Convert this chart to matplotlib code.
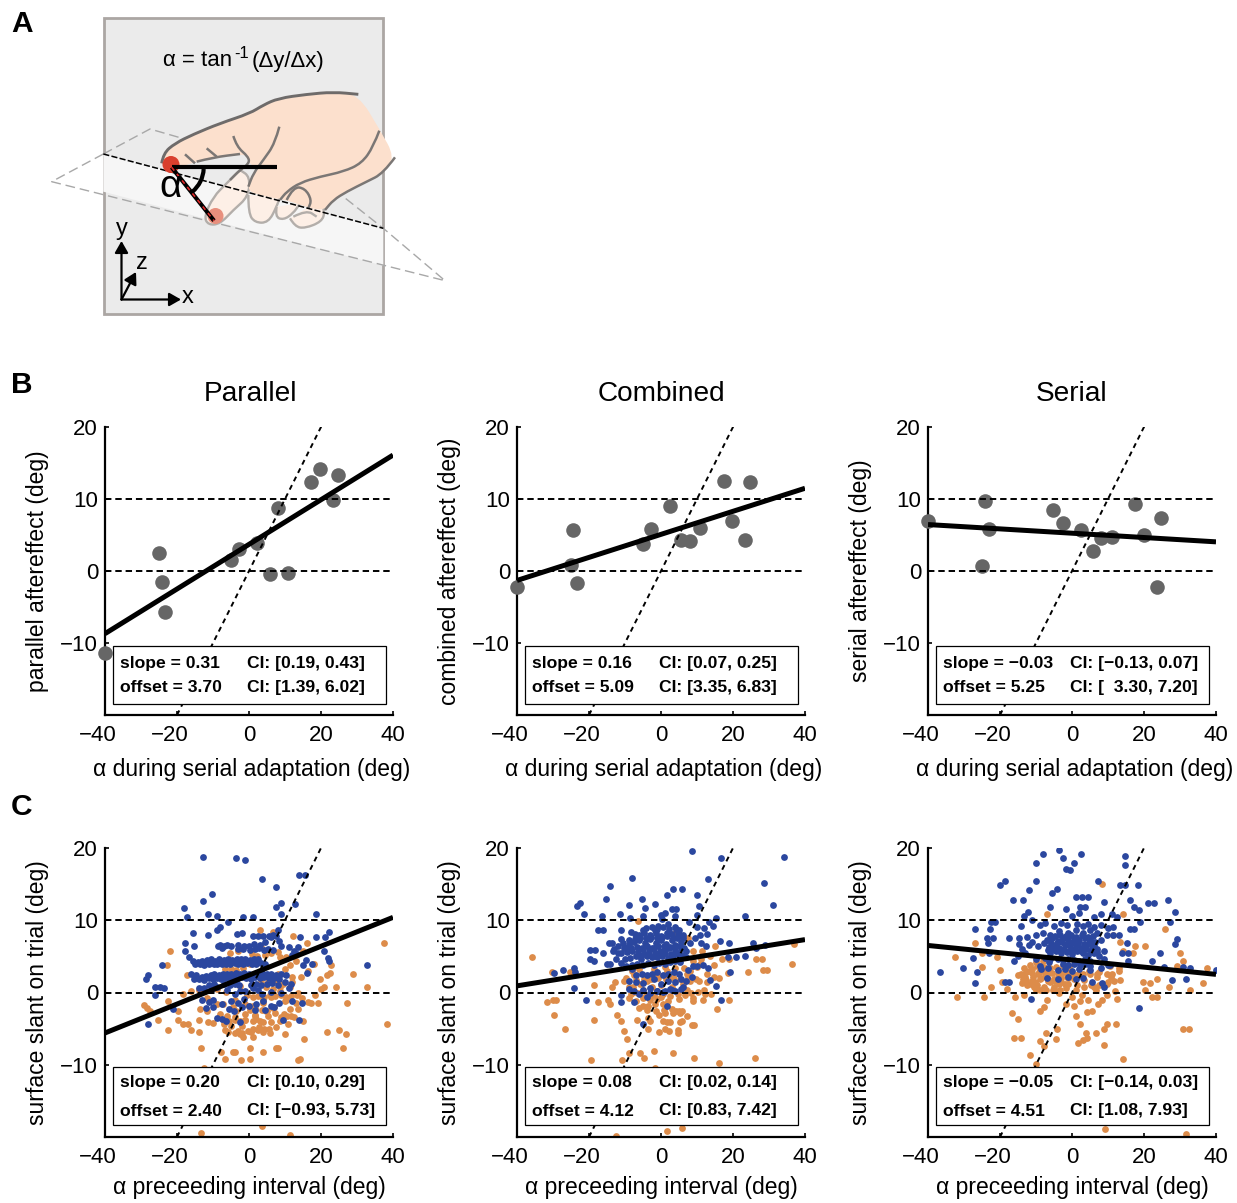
#!/usr/bin/python3
# -*- coding: UTF-8 -*-
import matplotlib
matplotlib.use('Agg')
import matplotlib.pyplot as plt
from matplotlib.patches import Rectangle, Polygon, PathPatch, Circle, Arc
from matplotlib.path import Path
from matplotlib.transforms import ScaledTranslation

plt.rcParams['font.family'] = ['Liberation Sans', 'DejaVu Sans']
plt.rcParams['axes.unicode_minus'] = True

W, H = 1237, 1203

# panel B, mean per subject
b_x = [[-40, -25, -24.3, -23.2, -5.1, -2.8, 2.3, 5.7, 10.8, 8, 17.3, 19.7, 24.6, 23.3],
       [-40, -24.4, -25, -23.3, -5, -2.8, 2.5, 5.5, 8, 10.8, 17.5, 19.7, 23.3, 24.7],
       [-40, -24.2, -23, -25, -5.3, -2.5, 2.5, 5.8, 8, 11, 17.5, 20, 23.6, 24.7]]
b_y = [[-11.4, 2.5, -1.5, -5.7, 1.5, 3, 3.9, -0.4, -0.3, 8.8, 12.3, 14.2, 13.4, 9.8],
       [-2.2, 5.7, 0.8, -1.7, 3.8, 5.8, 9, 4.3, 4.2, 6, 12.5, 6.9, 4.3, 12.4],
       [6.9, 9.7, 5.8, 0.7, 8.5, 6.7, 5.7, 2.8, 4.6, 4.7, 9.3, 5, -2.2, 7.4]]

# panel C, parallel
c1_blue_x = [-12.7, -3.6, -1.2, 3.5, 13.8, 15.5, 7.6, -10.3, -12.9, -18, -17.2, 8.9, 7.6, 12.9, 8.8, -11.4, -9, -5.8,
             -1.8, 1.1, 18.5, -15.5, -9, -8, -11.4, -17.8, -15.4, -17.8, -16.8, -24.2, -28, -28.6, -26, -24.7, -23.6,
             -26, -28, -21, 32.7, 22.3, 21, 18.6, 14.2, 20.9, 22, 22.3, 15.9, 17.5, 15, 16, 13.8, 9.4, 14.8, -2.6,
             -9, -7.6, -6.5, -15.5, -14.2, -13, -11.8, -10.6, -9.4, -8.2, -7, -5.8, -4.6, -3.4, -2.2, -1, 0.2, 1.4, 2.6,
             -16, -14.6, -13, -12, -10.5, -9.6, -8.4, -7.2, -6.2, -5, -3.6, -2.6, -1.4, 0, 1, 2.4, 3.6, 5, 6, 7.6, 9, 10.4,
             -8, -7, -6, -5, -3, -1.5, 0, 1.5, 3, 4.5, 6, 7.5, 9, 11, 12.5, 13.5,
             1, 2.5, 4, 5.5, 6.8, -2, -3.2, -8.6, -7.4, 8, 8.4,
             -14, -12.4, -10.6, -9, -6, -4, -2.6, -1, 1, 2.4, 3.6, 6, 9, 11,
             -13, -11, -10, -7.6, -5, -3, -1.4, 0, 2, 4, 6, 8.4, 12, -12, -10, -5.6, -4.2, -2, 1.8, 4.4, 7,
             -15, -13.6, -12.4, -11, -9.8, -8.8, -7.6, -6.4, -5.4, -4, -3, -1.8, -0.6, 0.8, 2, 3.2, 4.4,
             -15.4, -14, -12.6, -11.2, -10, -8.8, -7.8, -6.6, -5.6, -4.4, -3.2, -2, -0.8, 0.6, 1.8, 3, 4.2, 5.6, 7, 8.2,
             -11, -9.6, -7, -5.4, -4, -2.8, 0.6, 2, 3.4, 5, 6.4, 8, 10, 11.6,
             -3, -1.6, 0.2, 1.6, 2.8, 4.2, 5.4, 6.8, 12, 13.4]
c1_blue_y = [18.7, 18.6, 18.3, 15.7, 16.3, 16.3, 14.6, 13.7, 12.6, 11.7, 10.4, 12.4, 11.9, 12.3, 10.9, 10.9, 10.6, 9.8,
             10.5, 10.5, 10.9, 8.3, 8.7, 9, 7.9, 6.8, 6.5, 5.7, 4.9, 3.8, 2.4, 1.8, 0.8, 0.8, 0.6,
             -0.3, -4.3, -2.3, 3.8, 8.4, 7.7, 7.7, 7.7, 5.7, 4.8, 4.4, 4.5, 3.9, 3.8, 2.7, -3.8, -3.8, -1.4, -4.1,
             -3.5, -3.7, -3.9, 4.4, 4.2, 4.3, 4.5, 4.6, 4.4, 4.6, 4.5, 4.6, 4.5, 4.7, 4.6, 4.6, 4.5, 4.6, 4.7,
             2.6, 2.4, 2.2, 2.3, 2.4, 2.5, 2.4, 2.6, 2.5, 2.6, 2.7, 2.5, 2.7, 2.6, 2.4, 2.6, 2.7, 2.6, 2.5, 2.4, 2.6, 2.4,
             6.6, 6.4, 6.6, 6.4, 6.6, 6.5, 6.4, 6.7, 6.6, 7, 7.7, 7.8, 6.4, 6.3, 5.8, 6.3,
             7.8, 7.8, 7.8, 7.8, 7.9, 8.3, 8.1, 6.5, 6.2, 8.6, 7.1,
             0.6, 0.6, 0.4, 0.7, 0.4, -0.2, 0.2, 0.2, 0.6, 0.3, -0.2, 0.1, 0, 0.6,
             -1.1, -1.3, -1, -1.6, -1.2, -1.5, -0.9, -1.8, -1.6, -1.2, -1.8, -1.4, -1.2, -2.2, -2, -2.3, -2.6, -2, -2.4, -2.4, -2,
             3.9, 4, 3.8, 3.9, 4, 3.9, 4, 3.9, 4, 4.1, 3.9, 4, 4.1, 3.9, 4, 4.1, 3.9,
             1.9, 1.8, 1.7, 2, 1.8, 2, 1.9, 2, 1.9, 2.1, 1.9, 2.1, 2, 1.9, 2.1, 2, 2.1, 2, 2, 1.9,
             1.1, 1.2, 1.2, 1, 1.2, 1, 1, 1.2, 1.1, 1.2, 1.3, 1.1, 1.4, 1.2,
             6, 6, 5.9, 6, 6.1, 5.9, 6, 5.9, 5.2, 5.3]
c1_orange_x = [37.4, 28.8, 32.7, 27.1, 38.2, 21.6, 25.1, 27, 26.2, 24.2, 22.7, 22.5, 21.6, 19.7, 20.9, 20, 18.2, 19.1, 17.3, 16.3,
               15.4, 14.2, 13.6, 8, 7.4, 3.9, 0.4, -2.3, -4.4, -3.8, -6.7, -7.9, 0.2, -13.2, -12.6, -13.2, 11.4, 3.6,
               -22, -22.9, -29.3, -28.4, -27.6, -25.4, -22.4, -22.4, -19.8, -18.3, -16.9, -16.2, -14, -13.9, -11.4, -11.6,
               -19.6, -18.3, -17.3, -6.7, -3, -2.4, -1.8, 1.1, 0.6, 2.5, 3.9, 5.7, 10.1, 10.8, 6.2, -1.2, 1.1, 3, 3.9, 1.6,
               3.9, 1.1, -1.2, 11.3, 13.6, 10.3, 4.8, 6.6, 8.5, 11.3, 13.6, 3, 6.6, 12.2, 16, 15, 11.3, 13.1, 10.4, 8.5,
               -3, -5.3, 0.2, 3.4, -4.4, -3.5, -7.2, -9, -11.8, -13.7, -8, -6, -4, -1, 1.6, 4.6, 7.2, 9.6, -10, -7, -5, -2,
               -9, -6.5, -2.6, 0.8, 3.4, 5.4, 7.8, 9.4, 12, 14.4, 16.4, 18, 8, 10, 12, -16, -14, -4, 6, 8.6,
               -0.5, 1, 2.6, 4.2, 5.8, 7.2, 8.8, 10.2, 11.8, 13.2, 14.6, 0, 2, 3.8, 5.4, 7, 8.6, 10, 11.6, 13, 15,
               -7, -5.6, -4, -2.6, -1.2, 0.2, 1.8, 3.6, 5, 6.8, -6.6, -5, -3.6, -1.8, 0.8, 2.2, 4.4, 6.2, 8,
               -5.8, -4, -2, -0.4, 1.2, 2.8, 4.2, 5.6, 7.4, 9, 10.6, 12.4]
c1_orange_y = [6.9, 2.6, 0.7, -1.4, -4.4, -5.5, -5.2, -5.7, -7.7, 0.7, 3.8, 2.7, 2.4, 1.8, 0.8, 0.5, -0.3, -1.4, -1.4, -1.3,
               -6.4, -9.2, -9.4, -7.7, -7.7, -8.3, -9.2, -9.4, -8.3, -8.3, -9.2, -8.3, -7.7, -7.7, -10.4, -19.5, -19.7, -18.5,
               5.7, 3.8, -1.7, -2.2, -2.5, -3.8, -5.2, -1.2, -3.8, -4.3, -4.3, -5.2, -5.5, -3.8, -4.1, -2.5,
               -2.5, -0.2, 2.4, -5.2, -5.3, -5.7, -6.1, -6.2, -5.4, -5.2, -5.5, -5.6, -5.7, -4.3, -4.1, -3.8, -3.9, -3.9, -4.1, -3.1,
               -1.4, -1.8, -1.6, -2.3, -2.3, -1.1, 0.7, 0.5, 0.7, 0.7, 0, 8.7, 8.4, 7.8, 6.8, 5.8, 3.8, 4.4, 4.9, 4.9,
               5.8, 5.4, 4, 6.3, -2, -2.5, -1.6, -1.6, -0.7, -2.3, -3, -3.2, -3.4, -3, -3.2, -2.6, -2.8, -3, -4.2, -4.4, -4.6, -4.6,
               0.5, 0.1, 0.9, 1, 1.4, 1.5, 1.6, 1.2, 1.4, 2.2, 3, 4, 2.6, 3.2, 2.2, 0.2, 0.4, -1, -0.6, 0.2,
               -0.4, -0.6, -0.5, -0.6, -0.4, -0.5, -0.4, -0.6, -0.5, -0.4, -0.7, -1.9, -3.7, -1.1, -3.2, -2, -3.9, -1.2, -3.3, -1.5, -3.9,
               -4, -3.9, -3.8, -4, -3.8, -2.4, -2.2, -2.4, -2.5, -2.1, 3.2, 3.3, 3.1, 3.4, 5.3, 5.1, 5.2, 5.4, 5.6,
               -5.4, -5.6, -5.6, -5.3, -5.1, -4.8, -5, -5, -4.8, -3.4, -3.2, -3.4]

# panel C, combined
c2_blue_x = [8.5, 16.7, 34.3, -8.1, -14.3, 13, 28.5, 3.4, 5.8, 1.8, 10, -15.2, -5.3, -1.7, -22.4, -23.3, -9, -4.5, 10.5, 31.1,
             -21.5, -16.3, -11.3, -5.1, -8.6, 0.1, 1.1, 3, 4.3, 4, 0.3, 9.9, 23.3, 15.4, 13.4, 7.8, 9.9, 11.9, 14.5, 12.7, 10.8,
             2, 4.3, -17.5, -16, -11.2, -8.2, -7.2, -4.9, -1.7, -0.7, -14.4, -13.5, -11, -16.1,
             -19.8, -18.3, -19.8, -18.7, -15, -14.1, -29.6, -27.2, -24.1, -23.8, -24.3, -20.9, -11.2, -11.2, -7.5, -4, -5.1, 1.8,
             15.4, 13.6, 16.7, 19.1, 25.6, 26.5, 23.2, 18.9, 16.3, 20.9, 18.5, 28.8,
             -12, -10.5, -9, -7.5, -6, -4.5, -3, -1.5, 0, 1.5, 3, 4.5, 5.5, -11, -9.4, -8, -6.4, -5, -3.4, -2, -0.4, 1, 2.6, 4, 5.6, 7,
             -10, -8.6, -7, -5.6, -4, -2.6, -1, 0.4, 2, 3.4, 5, -8, -6.6, -5, -3.6, -2, -0.6, 1, 2.4, 4, 5.4, -12.5, -11, -9.6,
             -6, -4.6, -3, -1.4, 0, 1.6, 3, 4.6, 6, -7, -5.4, -4, -2.4, -1, 0.6, 2, 3.6, 5, 10, 11.6, 13, 7.6, 9, 7,
             -9, -7, -5, -2, 0, 2, 4, 5.6, 7, 8.6, -6, -3, -1, 1, 3, 5.5, -9, -7.4, -5, -3, -1, 0.5, 2.6, 4, 6,
             -13, -9.8, -8.4, -6.8, -5.4, -3.8, -2.4, -0.8, 0.8, 2.2, 3.8, 5.2, 6.4, -8.8, -7.2, -5.8, -4.2, -2.8, -1.2, 0.2, 1.8, 3.2, 4.8, 6.2,
             -6.2, -4.8, -3.2, -1.6, -0.2, 1.2, 2.8, 4.4, 5.8, -4.2, -2.6, -1, 0.6, 2.2, 3.8, 5, -10.4, -12, -13.2, -8, 8, 9.4, 11, 12.4]
c2_blue_y = [19.6, 18.6, 18.8, 15.9, 14.8, 15.7, 15.1, 14.3, 14.3, 13.5, 13.5, 12.9, 12.9, 12.3, 12.4, 12, 12.1, 11.7, 12, 12.1,
             10.9, 10.6, 10.9, 10.6, 10.3, 10.7, 11, 11.6, 11.6, 10.6, 10.2, 10.7, 10.6, 10.3, 9.8, 9.8, 9.1, 8.9, 9.2, 8.1, 7.9,
             9.5, 8.8, 8.7, 8.7, 8.7, 8.4, 8.1, 8.6, 8.7, 9.2, 6.9, 6.9, 7.4, 5.4,
             5.9, 5.9, 4.7, 4.3, 4, 3.9, 2.7, 3.1, 3.4, 2.8, 0.6, -1, -0.3, -1.3, -1.3, -0.6, -4.4, -1.8,
             0.9, 1.7, -1, 2.8, 6.9, 6.1, 5.1, 6.9, 7.1, 4.9, 4.9, 6.6,
             6.4, 6.8, 6.6, 7, 7.3, 6.9, 7.4, 6.8, 7.2, 6.7, 7.3, 7.6, 7, 5.4, 5.6, 5.8, 5.6, 6, 5.8, 6.1, 5.7, 5.9, 6.3, 5.9, 6.1, 5.7,
             4.6, 4.8, 5, 4.7, 5, 4.9, 4.9, 5.1, 4.8, 5, 5.2, 3.8, 4, 3.8, 4.1, 3.8, 4.1, 4, 4.2, 4.4, 4.2, 4.6, 4.1, 3.6,
             7.9, 8.2, 7.9, 8.3, 7.8, 8.2, 8.1, 8.4, 8, 2.4, 2.6, 2.4, 2.6, 2.8, 2.4, 2.6, 2.9, 2.5, 3.6, 3.8, 3.4, 3.1, 3.6, 4.9,
             1.6, 1.4, 1.3, 1.8, 1.2, 1.6, 1.4, 1.9, 1.6, 2.2, -0.2, -0.1, 0.2, 0.2, 0.3, 0.5, 0.5, 0.2, 0.4, 0.6, 0.2, 0.1, 0.5, 0.2, 0.8,
             6, 6.2, 6.1, 6.3, 6.2, 6.5, 6.2, 6.4, 6.5, 6.2, 6.6, 6.4, 6.2, 7.2, 7.4, 7.5, 7.6, 7.7, 7.5, 7.7, 7.8, 7.6, 7.8, 7.5,
             5.2, 5.3, 5.2, 5.4, 5.2, 5.5, 5.3, 5.4, 5.2, 8.9, 9, 8.8, 9, 8.8, 9, 8.7, 6.2, 5.4, 5.7, 3.2, 6.8, 7.5, 6.8, 6.4]
c2_orange_x = [-35.7, -30.3, -25.2, -31.8, -30, -29.1, -29.8, -26.8, -18.5, -17.4, -18.5, -19.5, -10.9, -12.1, -11.2, -10.4, -9.5,
               -14.6, -14.1, -12.7, -13.7, -9, -5.8, -4.7, -1.9, 3.4, 9.1, 16, 26.1, -1.8, -12.5, 1.6, 5.8, 37, 36.3, 28.1, 26.3,
               28.3, 29.5, 24.1, 18.9, 15.6, 9.1, 8.5, 5.3, 5.8, 5.8, 4.1, 1.6, 2.5, 0.6, -0.6, -0.5, 1.1, 2.2, 4.8, 4.8,
               -3.5, -3, -3.5, -6.7, -4.9, -3.5, -1.7, 0.6, 7.1, 8.9, 11.7, 11.9, 14, -6.3, 4, 7.5, 9, 11.3, 15, 17, 19,
               -7.7, -10.4, -9, -5.8, -4, -1.2, 1.6, 3.4, 7.1, 8, 10, 12.7, 14.6, 18.7, 9, 10.8,
               -9, -7, -5, -3, 0, 2, 5, 9, -7.5, -5, -2.5, 0, 3, 6, 8, -8, -6, -2, 1, 4, 6.5, 11, 13.5,
               -8.4, -6.4, -4.2, -2, 0.6, 2.6, 4.6, 6.6, 8.4, 10.4, 12.2, -7, -4.8, -2.8, -0.8, 1.4, 3.4, 5.4, 7.4, 9.6,
               -6, -3.8, -1.4, 0.8, 3, 5, -3, -1, 1, 3.2, 5.4, 7.2, -9.6, -7.6, 10.6, 12.8, 14.6, 16.2]
c2_orange_y = [4.9, 2.9, 2.8, -1.3, -1, -1, -3.1, -5, 1.1, -1.3, -3.8, -9.3, -9.3, -3.1, -3.9, -5.3, -6.4,
               -1.1, -1.6, 1.4, 0.7, -8.4, -8.4, -9, -8.1, -8.4, -9, -9.8, -9, -10.4, -19.8, -19.2, -18.7, 6.7, 4, 4.7, 4.7,
               3.1, 3.1, 2.9, -1.1, -2.3, -4.5, -4.5, -4.1, -3.9, -2.5, -2.6, -4.1, -4.1, -3.9, -3.1, -5.4, -5.1, -5.3, -5.2, -5.6,
               -3.5, -3.9, -5.1, -3.8, -1.8, -1.8, -1.6, -1.6, 0.3, -0.8, -1.1, 0.3, -0.2, 9.9, 8.3, 7.6, 5.8, 5.8, 6.5, 4.7, 4.7,
               0.7, 1.6, 0.7, 1.2, 1.6, 2.6, 3, 2.1, 2.6, 3, 3.5, 2.6, 3.8, 2.7, 4.4, 3.9,
               -0.8, -1.2, -0.8, -1, -0.6, -1.2, -0.9, -1.2, 0.1, 0.4, 0.8, 1, 0.7, 1.2, 1.6, 3, 3.2, 3.2, 3.5, 3.4, 3.4, 4.6, 5,
               -0.2, -0.1, -0.4, -0.3, -0.2, -0.5, -0.2, -0.4, -0.1, 0.1, -0.2, 1.7, 1.9, 1.8, 2, 1.9, 2, 1.8, 2, 1.8,
               -2.2, -2.4, -2.6, -2.4, -2.3, -2.5, -0.8, -0.9, -2.8, -2.9, -2.8, -3.2, 2, 2.4, 1.6, 1.5, 2.2, 2]

# panel C, serial
c3_blue_x = [-3.7, -8, -2.5, 2.6, 14.7, 14.7, -10, 0.5, -1.8, -0.6, -10, -18.5, -20, 7.2, 13.2, 14.8, 18.4, -11.9, -4.3, -5.6,
             1, 2.8, 4.4, -16.4, -13.7, 16, 26.7, 21, 22.9, 8.9, -6.2, -1.8, 2.3, 3.5, 17.1, 18.5, 28.7, -12.3, -13.2, 8.1, 11.2, 12.6,
             -22.6, -21.5, 27.2, 18.8, 16.1, 17.1, -27, -22.9, -14.3, -11.1, -23.7, -21.9, -23.2, -17.5, -14.7, -12.4, -14.7,
             28.6, 29.1, 15.2, 24.4, 22.1, 15.5, 15.5, -23.1, -27.4, -30.2, -36.6, -26.5, -26.9, -18.5, -17.5, -11.5, 8.8, 18.6,
             25.6, 27.7, 30.7, 31.8, 32.9, 39.9,
             -7, -5.5, -4, -2.5, -1, 0.5, 2, 3.5, 5, 6.5, 8, -6.5, -5, -3.5, -2, -0.5, 1, 2.5, 4, 5.5, 7, 9,
             -6, -4.5, -3, -1.5, 0, 1.5, 3, 4.5, 6, 7.5, -7.5, -6, -4, -2.5, -1, 0.5, 2, 3.5, 5,
             -9, -7.4, -5, -3, -1.5, 1.5, 3, 4.5, 6, 8, 10, 11.5, -10, -8, -6, -3.6, -1, 1, 3, 5, 7, 9.6, 11.4,
             -8.6, -6.8, -4, -2, 0, 2, 5, 8, 10, -7, -4, -1, 1, 3, 5.6, 8.4, -11, -13, -15, -10, -9, 0, 2, 6, 13, 14,
             -5.8, -4.2, -2.8, -1.2, 0.4, 1.8, 3.2, 4.8, 6.2, -6.8, -5.2, -3.8, -2.2, -0.6, 0.8, 2.4, 3.8, 5.4, 7,
             -4.8, -3.2, -1.8, -0.2, 1.2, 2.8, 4.4, 5.8, -2.6, -1, 0.6, 2.2, 3.6, 5, -7.8, -6.4, -9.4, -12, -14, -16, 9, 10.6]
c3_blue_y = [19.7, 19.2, 18.6, 19.2, 18.9, 17.6, 17.9, 17.9, 17.1, 16.9, 15.5, 15.5, 14.9, 15.5, 14.9, 14.9, 14.9, 14.2, 14.3, 13.8,
             13.2, 13.2, 13.2, 12.8, 12.8, 12.8, 12.8, 12.4, 12.4, 12.5, 11.8, 11.6, 11.8, 11.8, 11.9, 11.4, 11.1, 11.2, 10.6, 10.9, 10.9, 10.5,
             9.8, 9.8, 9.8, 9.8, 8.8, 8.8, 8.8, 8.8, 9.2, 10, 7.5, 7.5, 6.9, 7.5, 7.5, 7.7, 6.7,
             6.7, 7.4, 6.8, 5.4, 4.4, 5.4, 4.4, 5.4, 4.8, 3.4, 2.8, 2.8, 1.3, 1.5, 1.4, -0.9, 0.7, -2.2,
             3.5, 1.7, 3.5, 1.8, 3.4, 3.1,
             7.2, 7.5, 7.1, 7.6, 7.3, 7.5, 7.2, 7.5, 7.3, 7, 7.2, 6.3, 6.5, 6.2, 6.6, 6.4, 6.6, 6.2, 6.5, 6.2, 6, 5.8,
             5.4, 5.7, 5.4, 5.6, 5.3, 5.7, 5.5, 5.2, 5.4, 5, 4.8, 4.6, 4.7, 4.5, 4.7, 4.5, 4.4, 4.6, 4.4,
             9.4, 9.6, 9.2, 9.6, 9.3, 9.5, 9.2, 9.5, 9, 9.4, 8.9, 9.1, 8, 8.3, 8, 8.5, 8.2, 8.6, 8.3, 8.6, 8.2, 8, 8,
             3.2, 3.4, 3.1, 3.3, 3, 3.3, 3.1, 3.4, 3.8, 2, 1.9, 2.2, 1.8, 2, 1.5, 1.3, 7, 5.4, 5, 4.6, 3.6, 10.6, 11, 10.4, 8, 5.5,
             6.9, 6.8, 7, 6.8, 7, 6.9, 6.7, 6.9, 6.6, 5.9, 6, 5.9, 6, 5.8, 6, 5.8, 6, 5.8, 5.6,
             7.8, 7.9, 7.8, 7.9, 7.7, 7.9, 7.7, 7.8, 4, 3.8, 4, 3.8, 4, 3.7, 6.8, 4.2, 6.4, 6.6, 6, 4.4, 4.6, 3.8]
c3_orange_x = [-32.6, -26.9, -24.9, -22.6, -24.4, -32, -24.9, -20.8, -20, -19.4, -18, -15.7, -13.4, -16.7, -15.1, -16.1, -14.1,
               -11.7, -9.9, -7.2, -4.2, -8.8, -7.8, -4.4, 1.8, 3, 4.2, 3.9, 2.3, 6.7, 8.8, 9.7, 12.3, 8.9, 14.3, 30.9, 32.6,
               9.2, 31.8, 37.4, 36.3, 32.7, 30, 30.7, 29.1, 27, 23.6, 21.7, 19.7, 20.3, 22.1, 23.7, 17.6, 20.3, 16.9, 13.3, 12.5, 8.2,
               25.8, 14.3, 11.5, 13.4, 14.3, -7, -8.8, -7.8, -6.9, -1.8, 0.5, 1.1, 4.1, 5.5, 7.2, 9.7,
               -14.3, -12.9, -11.5, -9.7, -7.8, -5.1, -3.7, -6, -1.4, 3.2, 5, 6.9, 9.7, -10.1, -11, -7.8,
               -13, -11, -9, -7, -4.6, -2, 0.5, -12, -9.4, -6.4, -3, -0.5, 2, 4.6, 7.6, 11, 13, -10, -4, 1, 6, 10, 12,
               -14, -12.4, -10.6, -8.8, -7.2, -5.4, -3.4, -1.6, -11.6, -9.8, -7.8, -6, -4.4, -2.6, -0.8, -10.8, -8.6, -6.8, -5, -3, -1,
               1.4, 3.4, 5.4, 7.6, 9.6, 11.6, -13.2, -15, -8, -3.6, 2.8, 6.6, 0, 2.2, 4.4, 8.2, 10.6,
               -12.8, -11, -9.2, -7.4, -5.6, -3.8, -2, -0.2, -13.6, -10.2, -6.6, -3, -1.2, 1, 3, 7, 10.8, 13]
c3_orange_y = [4.9, 6.9, 3.5, 0.8, -0.6, -0.6, 5.4, 4.9, 3.1, 1.4, 0.5, -0.6, -0.4, -2.9, -3.7, -6.3, -6.3,
               -8.7, -9.9, -5.6, -5, -6.7, -7.4, -6.4, -7, -6.6, -6.3, -5.6, -4.4, -5.6, -5, -4.3, -4.4, -7.3, -9.2, -5, -5,
               -18.9, -19.6, 3.4, 1.3, 0.3, 5.4, 4.4, 3.6, 0.8, 1.9, 1.3, 1.4, 0.4, -0.6, -0.6, 6.5, 6.5, 5.4, 1.7, -0.9, 15,
               8.8, 10.8, 8, 7, 5.8, 10.8, -2.5, -2, -1.1, -1.6, -1.9, -3.2, -2.7, -2.5, -1.6, -0.4,
               2.6, 1.7, 1.2, 1, 0.7, 0.7, 1.2, 1.4, 2.1, 1.7, 2.6, 2.6, 2.6, 4.2, 3.3, 3,
               2.2, 1.6, 1.8, 2, 1.6, 1.2, 1.8, 3, 2.6, 2.8, 2.6, 3, 2.6, 3, 2.8, 2.6, 3.4, 0.4, 0.2, 0.4, 0.8, 1.4, 0.2,
               1.3, 1, 0.7, 0.4, 0.3, 0.3, 0.4, 0.6, 3.8, 3.6, 3.5, 3.4, 3.5, 3.6, 3.5, 2.2, 2, 1.9, 1.9, 2, 2,
               1.1, 0.8, 1, 1.1, 1.2, 1.6, 3.4, 2.4, 4.4, 0, -0.4, 0.3, -0.6, -1.2, -1, -1, 3.6,
               2.9, 2.7, 2.8, 2.5, 2.7, 2.6, 2.8, 2.5, 1.8, 1.5, 1.6, 1.5, 1.2, 2.4, 2.6, 2.2, 2.2, 3]

slopes_b = [0.31, 0.16, -0.03]
offsets_b = [3.70, 5.09, 5.25]
slopes_c = [0.20, 0.08, -0.05]
offsets_c = [2.40, 4.12, 4.51]

titles = ['Parallel', 'Combined', 'Serial']
b_ylabels = ['parallel aftereffect (deg)', 'combined aftereffect (deg)', 'serial aftereffect (deg)']
b_box = [['slope = 0.31', 'CI: [0.19, 0.43]', 'offset = 3.70', 'CI: [1.39, 6.02]'],
         ['slope = 0.16', 'CI: [0.07, 0.25]', 'offset = 5.09', 'CI: [3.35, 6.83]'],
         ['slope = \u22120.03', 'CI: [\u22120.13, 0.07]', 'offset = 5.25', 'CI: [  3.30, 7.20]']]
c_box = [['slope = 0.20', 'CI: [0.10, 0.29]', 'offset = 2.40', 'CI: [\u22120.93, 5.73]'],
         ['slope = 0.08', 'CI: [0.02, 0.14]', 'offset = 4.12', 'CI: [0.83, 7.42]'],
         ['slope = \u22120.05', 'CI: [\u22120.14, 0.03]', 'offset = 4.51', 'CI: [1.08, 7.93]']]
xticks = [-40, -20, 0, 20, 40]
yticks = [-10, 0, 10, 20]

GRAY = '#666666'
BLUE = '#2b479f'
ORANGE = '#dd8c4a'


def make_axes(left, top, height):
    # axes placed in picture pixels
    ax = fig.add_axes([left / W, 1 - (top + height) / H, 288 / W, height / H])
    ax.set_xlim(-40, 40)
    ax.set_ylim(-20, 20)
    ax.patch.set_alpha(0)
    for s in ['top', 'right']:
        ax.spines[s].set_visible(False)
    for s in ['left', 'bottom']:
        ax.spines[s].set_linewidth(1.6)
    ax.set_xticks(xticks)
    ax.set_yticks(yticks)
    ax.tick_params(direction='in', length=3, width=1.2, labelsize=16, pad=7)
    ax.tick_params(axis='y', pad=5)
    # the digits sit on the tick, the minus hangs out on the left
    shift = ScaledTranslation(-7 / 100, 0, fig.dpi_scale_trans)
    for lab, val in zip(ax.get_xticklabels(), xticks):
        if val < 0:
            lab.set_transform(lab.get_transform() + shift)
    return ax


def draw_common(ax, slope, offset, box, row1, row2):
    for yy in [0, 10]:
        ax.plot([-40, 40], [yy, yy], color='k', lw=1.4, dashes=(3.3, 2), zorder=4, clip_on=False)
    ax.plot([-20, 20.5], [-20, 20.5], color='k', lw=1.4, dashes=(2.6, 2.2), zorder=4)
    ax.plot([-40, 40], [-40 * slope + offset, 40 * slope + offset], color='k', lw=3.6, zorder=5,
            solid_capstyle='butt')
    # stat box, in axes fraction
    h = ax.get_window_extent().height
    ax.add_patch(Rectangle((8 / 288, 1 - 277 / h), 273 / 288, 58 / h, transform=ax.transAxes,
                           fc='white', ec='k', lw=0.9, zorder=6))
    for i, t in enumerate(box):
        xx = (15 if i % 2 == 0 else 142) / 288
        yy = 1 - (row1 if i < 2 else row2) / h
        ax.text(xx, yy, t, transform=ax.transAxes, fontsize=12.6, fontweight='bold', va='center',
                ha='left', zorder=7)


fig = plt.figure(figsize=(W / 100, H / 100), dpi=100)

# pixel overlay for panel A and the letters
bg = fig.add_axes([0, 0, 1, 1])
bg.set_xlim(0, W)
bg.set_ylim(H, 0)
bg.axis('off')


def pts(seq):
    # points below were read on the 3x crop
    return [(a / 3, b / 3) for a, b in seq]


def smooth(seq):
    p = pts(seq)
    verts, codes = [p[0]], [Path.MOVETO]
    for i in range(1, len(p) - 1):
        mid = ((p[i][0] + p[i + 1][0]) / 2, (p[i][1] + p[i + 1][1]) / 2)
        verts += [p[i], mid]
        codes += [Path.CURVE3, Path.CURVE3]
    verts.append(p[-1])
    codes.append(Path.LINETO)
    return Path(verts, codes)


bg.add_patch(Rectangle((104, 18), 279, 296, fc='#ebebeb', ec='#aba6a3', lw=2, zorder=1))
bg.add_patch(Polygon(pts([(310, 462), (1150, 685), (1150, 797), (310, 575)]), fc='#f6f6f6', ec='none', zorder=2))
bg.plot(*zip(*pts([(310, 462), (155, 545), (1335, 842), (1150, 685), (1030, 590)])), color='#a8a8a8', lw=1,
        dashes=(7, 3.5), zorder=2)
bg.plot(*zip(*pts([(310, 462), (450, 387), (540, 413)])), color='#a8a8a8', lw=1, dashes=(7, 3.5), zorder=2)

SKIN = '#fce0cd'
LIGHT = '#fdefe6'
FADE = '#b3aeaa'
DARK = '#6e6b6a'
# fingers below the plane
thumb = [(720, 510), (680, 550), (640, 590), (612, 650), (625, 675), (660, 672), (700, 630), (745, 590), (750, 530), (720, 510)]
bg.add_patch(PathPatch(smooth(thumb), fc=LIGHT, ec=FADE, lw=1.7, zorder=3))
for f in [[(745, 585), (745, 640), (765, 668), (805, 668), (830, 620), (840, 590)],
          [(830, 620), (825, 650), (850, 660), (880, 640), (900, 610)],
          [(870, 655), (885, 680), (915, 685), (965, 665), (975, 635), (960, 600)],
          [(880, 650), (920, 630), (950, 650)]]:
    bg.add_patch(PathPatch(smooth(f), fc=LIGHT, ec=FADE, lw=1.7, zorder=3))
# back of the hand
hand_outline = [(485, 490), (490, 460), (525, 430), (580, 403), (660, 370), (750, 340), (790, 315), (835, 295), (920, 283),
                (1000, 276), (1075, 283)]
hand_body = hand_outline + [(1140, 390), (1185, 472), (1150, 520), (1100, 545), (1040, 575), (1000, 600), (975, 630),
                            (930, 625), (860, 600), (800, 590), (740, 575), (755, 530), (775, 505), (745, 490), (748, 470),
                            (720, 462), (640, 472), (590, 485), (510, 510), (485, 490)]
bg.add_patch(PathPatch(smooth(hand_body), fc=SKIN, ec='none', zorder=3.2))
bg.add_patch(PathPatch(smooth(hand_outline), fc='none', ec=DARK, lw=2.1, zorder=3.5))
for line in [[(1185, 472), (1150, 520), (1100, 545), (1040, 575), (1000, 600), (975, 630)],
             [(1138, 392), (1120, 440), (1085, 490), (1030, 515), (960, 530), (900, 548), (860, 575), (840, 600)],
             [(838, 380), (825, 430), (790, 480), (760, 520), (745, 560)],
             [(700, 408), (710, 440), (745, 470), (748, 490), (720, 510), (690, 540)],
             [(620, 445), (650, 470)], [(555, 463), (585, 490)],
             [(590, 485), (640, 472), (720, 462)],
             [(860, 600), (880, 560), (915, 565), (935, 600), (925, 625)]]:
    bg.add_patch(PathPatch(smooth(line), fc='none', ec='#7b7775', lw=1.8, zorder=3.5))
bg.plot(*zip(*pts([(310, 462), (1150, 685)])), color='k', lw=1.1, dashes=(4, 1.5), zorder=3.6)
bg.add_patch(Circle((171, 164.5), 8.5, fc='#d9402e', ec='none', zorder=4))
bg.add_patch(Circle((215.5, 216), 8, fc='#e88f7d', ec='none', zorder=4))
bg.plot(*zip(*pts([(515, 502), (830, 502)])), color='k', lw=3, zorder=5, solid_capstyle='butt')
bg.plot(*zip(*pts([(515, 502), (642, 662)])), color='k', lw=3, zorder=5, solid_capstyle='butt')
bg.plot(*zip(*pts([(515, 502), (642, 662)])), color='#e02828', lw=1.2, dashes=(2.5, 2.5), zorder=6)
bg.add_patch(Arc((171.7, 167.3), 64, 64, theta1=3, theta2=50, color='k', lw=3, zorder=5))
bg.text(171, 187, '\u03b1', fontsize=28, ha='center', va='center', zorder=6)
bg.text(163, 61, '\u03b1 = tan', fontsize=16, ha='left', va='center', zorder=6)
bg.text(234, 53, '-1', fontsize=12, ha='left', va='center', zorder=6)
bg.text(252, 61, '(\u0394y/\u0394x)', fontsize=16, ha='left', va='center', zorder=6)
origin = (121.5, 299.5)
for tip in [(121.5, 241), (181, 299.5), (136, 272)]:
    bg.annotate('', xy=tip, xytext=origin, zorder=6,
                arrowprops=dict(arrowstyle='-|>,head_width=0.4,head_length=0.7', color='k', lw=1.6,
                                shrinkA=0, shrinkB=0))
bg.text(122, 229, 'y', fontsize=17, ha='center', va='center', zorder=6)
bg.text(142, 263, 'z', fontsize=17, ha='center', va='center', zorder=6)
bg.text(188, 297, 'x', fontsize=17, ha='center', va='center', zorder=6)
for letter, yy in [('A', 24), ('B', 385), ('C', 807)]:
    bg.text(11, yy, letter, fontsize=21.5, fontweight='bold', ha='left', va='center')

# panel B
title_x = [0.505, 0.5, 0.497]
for i, left in enumerate([105, 517, 928]):
    ax = make_axes(left, 427, 288)
    ax.scatter(b_x[i], b_y[i], s=110, c=GRAY, linewidths=0, zorder=3, clip_on=False)
    draw_common(ax, slopes_b[i], offsets_b[i], b_box[i], 236, 260)
    ax.set_title(titles[i], fontsize=20.2, pad=19, x=title_x[i])
    ax.set_ylabel(b_ylabels[i], fontsize=16.5, labelpad=8)
    ax.set_xlabel('\u03b1 during serial adaptation (deg)', fontsize=16.5, labelpad=9, x=0.51)

# panel C
c_blue = [(c1_blue_x, c1_blue_y), (c2_blue_x, c2_blue_y), (c3_blue_x, c3_blue_y)]
c_orange = [(c1_orange_x, c1_orange_y), (c2_orange_x, c2_orange_y), (c3_orange_x, c3_orange_y)]
for i, left in enumerate([105, 517, 928]):
    ax = make_axes(left, 848, 289)
    ax.scatter(*c_orange[i], s=24, c=ORANGE, linewidths=0, zorder=2)
    ax.scatter(*c_blue[i], s=24, c=BLUE, linewidths=0, zorder=3)
    draw_common(ax, slopes_c[i], offsets_c[i], c_box[i], 234, 263)
    ax.set_ylabel('surface slant on trial (deg)', fontsize=16.5, labelpad=8)
    ax.set_xlabel('\u03b1 preceeding interval (deg)', fontsize=16.5, labelpad=6)

fig.savefig('out.png', dpi=100)
